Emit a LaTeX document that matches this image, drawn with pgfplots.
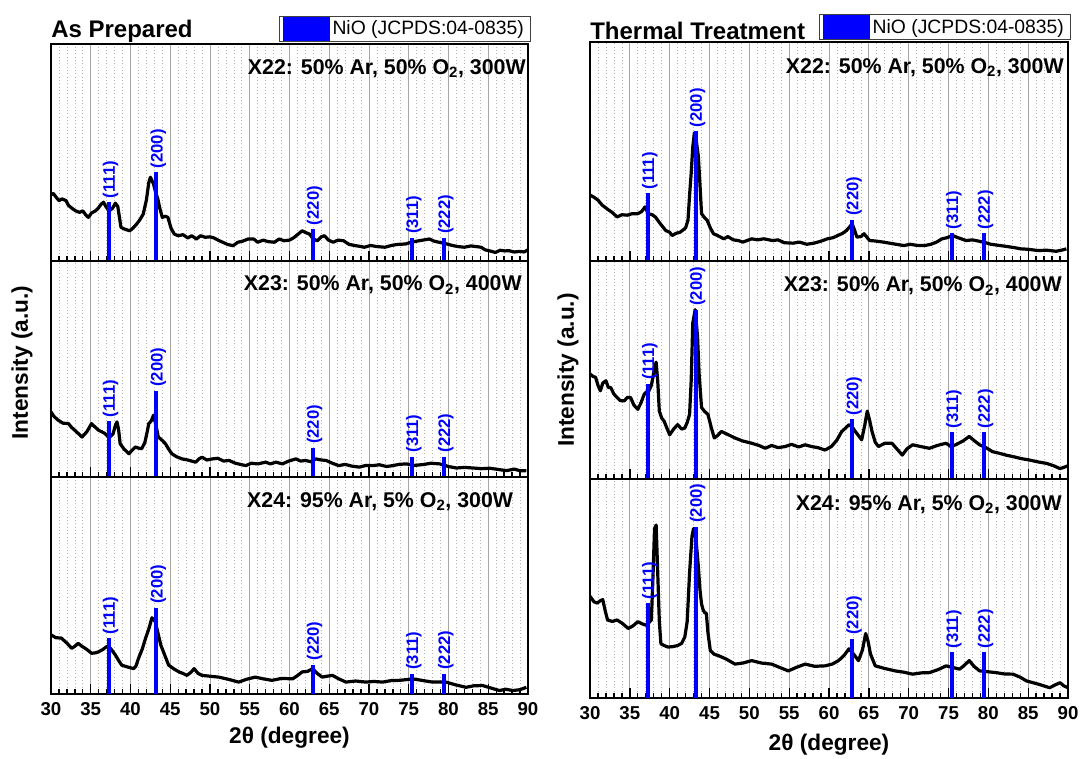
\documentclass[border=0pt]{standalone}
\usepackage{pgfplots}
\usepackage{pgfplotstable}
\pgfplotsset{compat=1.18}
\usepackage{fontspec}
\setmainfont{Liberation Sans}
\newcommand{\fs}[1]{\fontsize{#1}{#1}\selectfont}

\pgfplotstableread{
x y
30.0 30.5
30.3 31
30.6 29.5
31.0 27.7
31.4 28.5
31.9 27.7
32.2 25.5
32.7 24
33.1 23
33.6 22.3
34.0 23
34.4 21
34.7 20
35.1 22
35.6 23
36.0 24.5
36.3 26
36.6 27
36.9 25
37.3 23
37.7 24
38.1 26.5
38.4 25
38.8 15.4
39.3 14.5
39.9 13.8
40.3 15
40.8 17
41.2 19
41.6 21.5
42.0 28
42.3 36
42.5 38.5
42.7 37
42.9 35.4
43.2 31
43.4 29
43.7 24
44.0 20
44.4 20.5
44.7 20
45.1 15
45.5 12.3
46.0 11.5
46.6 12
47.2 10.5
47.7 11.5
48.3 10
48.8 11.5
49.4 10.8
50.0 11
50.5 10.5
51.0 9.5
51.6 8.5
52.2 7.5
52.9 6.9
53.5 8.5
54.1 9
54.8 10
55.5 10
56.0 8.5
56.7 9.5
57.3 8.8
58.1 8.5
58.7 10
59.3 9.2
60.0 9.5
60.5 10.5
61.0 12
61.6 13.8
62.0 13
62.5 12.3
63.0 10
63.5 9.2
64.0 11
64.4 11.5
64.9 9.5
65.5 8.5
66.1 9.5
66.8 9.2
67.5 7.5
68.2 7
69.0 6.5
69.4 6.2
70.2 7
71.0 6.5
72.0 6.2
72.8 7
73.6 7.5
74.6 7.7
75.3 8.5
76.0 9
76.8 9.5
77.6 10
78.2 9
78.8 8.5
79.8 7.7
80.5 7
81.2 6.5
82.0 6.2
82.8 6.8
83.5 6.5
84.1 6.2
84.6 5
85.2 4.5
85.9 3.8
86.5 4.8
87.1 4.5
87.6 4.6
88.3 4
89.0 4.3
89.5 4
90.0 5
}\dataTL

\pgfplotstableread{
x y
30.0 30
30.5 29
31.0 27.7
31.5 25.5
32.1 23.8
32.8 22
33.4 20
34.0 21
34.7 20.8
35.3 21.5
36.0 21.5
36.5 22.5
36.9 24.6
37.3 21.5
37.8 21
38.2 20
38.8 17
39.5 13.8
40.0 13
40.3 11.5
40.8 12.5
41.3 13
41.6 13.8
42.0 15
42.3 18.5
42.5 30
42.7 40
42.9 52
43.1 58.5
43.3 56
43.6 47.7
43.8 35
44.0 21.5
44.3 20
44.7 18.5
45.1 15
45.5 12.3
46.0 11.5
46.8 10
47.3 11
48.0 9.5
48.6 9.2
49.2 8.5
50.3 10
51.0 9.5
51.8 10
52.9 9.2
53.6 9.5
54.4 8.2
55.5 8
56.3 8.5
57.2 7.5
58.1 8
58.9 8.8
59.8 10
60.5 10.5
61.1 11.5
61.7 12.5
62.2 13.8
62.6 15.5
62.9 16.9
63.2 14
63.5 10.8
64.0 11
64.4 12.3
65.1 9.2
65.8 9
66.8 8.5
67.6 8
68.4 7.5
69.4 6.9
70.2 7.5
71.0 7
72.0 6.9
72.8 7.5
73.5 8.5
74.2 10
74.8 10.5
75.5 11.5
76.2 10.5
77.2 9.2
78.0 9.5
78.7 9
79.4 8.5
80.3 7.5
81.5 6.9
82.3 6.5
83.2 6
84.1 5.4
85.0 5.2
86.3 4.6
87.3 4.8
88.5 4.3
89.2 4.8
89.8 5.4
}\dataTR

\pgfplotstableread{
x y
30.0 30.2
30.4 28
30.9 26.4
31.5 25
32.2 24.8
32.6 23
33.0 21.7
33.5 20
33.9 18.6
34.5 21
35.1 24.8
35.6 23
36.0 21.7
36.4 21
36.8 20.2
37.1 19
37.4 18.6
37.8 20
38.1 24
38.3 25.6
38.5 22
38.7 15.5
39.2 13
39.8 10.9
40.2 12.5
40.6 14
41.0 13.5
41.4 13.2
41.8 16
42.1 21
42.3 24.8
42.6 26
42.9 28.7
43.2 24
43.5 18.6
44.0 17
44.4 15.5
44.8 13
45.2 10.9
45.8 9.5
46.5 8.5
47.2 8
48.2 7
48.6 8.5
49.0 9.3
49.6 8
50.3 8.5
51.0 8.8
51.7 7.5
52.4 7.8
53.2 6.5
53.8 6
54.5 5.4
55.2 6.5
56.0 6.2
57.0 7
57.6 6.2
58.3 7
59.1 6.2
59.9 7.5
60.8 8.5
61.4 7.5
62.0 7.8
62.7 7.2
63.3 8.5
64.0 8
64.6 7.8
65.4 6.5
66.2 5.4
67.0 6
67.8 5.2
68.8 4.7
69.6 5.5
70.5 5.4
71.3 5.8
72.2 5
73.0 5.4
73.8 6
74.7 6.2
75.7 5.5
76.8 5.9
77.8 6.5
78.9 6.2
80.0 5
81.0 4.3
82.0 4.6
83.1 4.3
84.2 4
85.2 4.2
86.3 3.6
87.3 3.1
88.3 3.8
89.0 3
89.8 3.1
}\dataML

\pgfplotstableread{
x y
30.0 48.2
30.4 47
30.7 46.7
31.0 43
31.3 40.5
31.6 44
32.0 45.1
32.3 42
32.6 42
33.0 39
33.4 37.4
33.8 36
34.3 35.9
34.7 37.5
35.1 37.4
35.5 34
36.0 32
36.4 35
36.8 38.9
37.1 40
37.4 40.5
37.7 43
37.9 46.7
38.1 51
38.3 53.6
38.5 45
38.7 31.2
39.0 28
39.3 26.6
39.7 23
40.0 20.4
40.5 23
41.0 25
41.5 23
41.9 23.5
42.2 26
42.5 29.7
42.7 45
42.9 71.4
43.2 77.6
43.5 65.2
43.7 48
44.0 32.8
44.4 31
44.8 29.7
45.2 24
45.6 18.9
46.0 20
46.5 21.9
47.3 20.5
48.2 18.9
49.2 17.5
50.3 16.5
51.2 15.5
52.0 14.2
52.8 15.5
53.6 14.5
54.5 15
55.3 16
56.2 14.8
57.0 15.8
57.8 15
58.6 14.5
59.5 13.4
60.3 15
61.0 18
61.6 21.9
62.1 23.5
62.5 25
62.9 24
63.3 21.9
63.7 20
64.1 18.1
64.5 25
64.8 31.2
65.1 27
65.4 21.9
65.8 17
66.2 15
67.0 16.5
67.9 16.5
68.5 14
69.2 11.1
69.8 14
70.5 15.8
71.5 15
72.6 14.2
73.6 15.5
74.7 16.5
75.3 15
75.9 15.8
76.8 17.5
77.6 19.6
78.3 17.5
78.9 15.8
79.7 14.5
80.5 12.7
81.5 11.8
82.3 11
83.1 10.4
84.1 9.5
85.2 8.8
86.2 8
87.3 7.3
88.2 6.2
89.0 4.9
89.5 5.5
90.0 6.2
}\dataMR

\pgfplotstableread{
x y
30.0 27.3
30.6 26
31.3 25.8
32.0 23.5
32.6 21.1
33.0 22
33.4 23.4
33.9 22
34.3 21.1
34.7 20
35.1 18.8
35.6 19
36.0 19.5
36.5 20.5
37.0 21.9
37.5 21
38.1 18
38.5 15.5
38.9 13.3
39.6 12.5
40.4 11.7
40.7 13
41.0 16.4
41.5 21
41.9 25.8
42.3 30
42.7 35.2
43.1 33.6
43.4 29
43.8 22.7
44.3 18
44.8 13.3
45.5 11.5
46.1 10.2
46.6 9.5
47.1 8.6
47.6 10
48.0 11.7
48.5 9.5
49.0 8.6
50.0 8.2
51.1 7.8
52.3 6.8
53.6 5.5
54.6 6.8
55.7 7.8
56.7 7
57.8 6.3
59.0 7.2
60.4 7
61.0 8.5
61.6 10.2
62.3 10.5
62.9 11.7
63.5 9.5
64.1 7.8
64.7 8.2
65.4 8.6
66.2 7
67.1 5.5
68.3 6
69.6 5.5
70.6 5.8
71.7 5.5
72.8 6.2
73.8 6.3
74.6 6.6
75.5 7
76.8 6.2
78.0 5.5
79.7 5.5
80.9 4.2
82.2 3.1
83.2 3.8
84.3 3.9
85.3 2.8
86.4 1.6
87.2 2.2
88.1 1.6
89.0 2
89.8 3.1
}\dataBL

\pgfplotstableread{
x y
30.0 46.5
30.5 44
30.9 43.4
31.3 44.5
31.6 45
31.9 40
32.2 35.7
32.8 35
33.4 35.7
34.1 34
34.8 31.8
35.4 33
36.0 34.9
36.5 34
37.0 33.3
37.4 34.5
37.7 35.7
37.9 55
38.1 77.5
38.3 79.1
38.5 57.4
38.7 35
38.9 24.8
39.3 24
39.8 23.3
40.4 23.5
41.0 24
41.5 25
41.9 27.9
42.2 35
42.5 57.4
42.8 74
43.0 77.5
43.3 72.9
43.6 60
43.8 49.6
44.0 43
44.2 40.3
44.4 39
44.6 38.8
44.8 30
45.1 21.7
45.6 20
46.1 19.4
47.0 18
48.2 15.5
49.2 16
50.3 17.1
51.5 16
52.8 15.5
53.8 14
54.9 12.4
55.9 14
57.0 15.5
58.2 14.5
59.5 14.7
60.4 15.5
61.2 17.1
61.9 19.5
62.5 22.5
63.1 20
63.7 17.1
64.2 22
64.6 29.5
64.9 26
65.2 20.2
65.8 14.7
67.0 13.5
68.3 12.4
69.4 11.8
70.5 10.9
71.6 11.5
72.6 11.6
73.7 13
74.7 14.7
75.5 14
76.4 13.2
77.0 15
77.6 17.1
78.2 14.5
78.9 12.4
80.0 12
81.0 11.6
82.0 11
83.1 10.9
84.0 9.5
84.8 7.8
85.6 7
86.4 6.2
87.0 5.5
87.7 4.7
88.4 6
89.0 7
89.5 5.5
90.0 4.7
}\dataBR

\pgfplotstableread{
x y lab
37.25 27 (111)
43.25 40.8 (200)
62.9 14.6 (220)
75.4 10.5 (311)
79.4 10.5 (222)
}\barTL
\pgfplotstableread{
x y lab
37.25 30.8 (111)
43.25 59.2 (200)
62.9 18.8 (220)
75.4 12.6 (311)
79.4 12.6 (222)
}\barTR
\pgfplotstableread{
x y lab
37.25 26 (111)
43.25 40 (200)
62.9 13.6 (220)
75.4 9.6 (311)
79.4 9.6 (222)
}\barML
\pgfplotstableread{
x y lab
37.25 43.6 (111)
43.25 77.6 (200)
62.9 27.4 (220)
75.4 21.6 (311)
79.4 21.6 (222)
}\barMR
\pgfplotstableread{
x y lab
37.25 25.8 (111)
43.25 39.8 (200)
62.9 13.6 (220)
75.4 9.4 (311)
79.4 9.4 (222)
}\barBL
\pgfplotstableread{
x y lab
37.25 43.4 (111)
43.25 78.3 (200)
62.9 27.1 (220)
75.4 20.9 (311)
79.4 20.9 (222)
}\barBR

\pgfplotsset{
  panel/.style={
    scale only axis, anchor=south west,
    clip mode=individual,
    xmin=30, xmax=90, ymin=0, ymax=100,
    xtick={30,35,...,90}, minor x tick num=4,
    ytick=\empty,
    xtick pos=lower,
    tick align=inside,
    major tick length=7.5pt, minor tick length=3.75pt,
    every tick/.style={black, line width=1pt},
    xmajorgrids, xminorgrids,
    major grid style={draw=black!35, line width=0.7pt, solid},
    minor grid style={draw=black!30, line width=0.5pt, dotted},
    axis line style={line width=1.3pt},
    tick label style={font=\fs{14}\bfseries},
    xticklabel style={yshift=-3pt},
    /pgf/number format/assume math mode=true,
  },
  leftp/.style={panel, width=357.75pt, height=162.5pt},
  rightp/.style={panel, width=358.5pt, height=164pt},
  curve/.style={black, line width=2.4pt, line join=round, no marks},
  bars/.style={ycomb, color={rgb,255:red,0;green,0;blue,255}, line width=3pt, no marks,
    nodes near coords, point meta=explicit symbolic,
    nodes near coords style={xshift=1.5pt, rotate=90, anchor=west, inner sep=1.5pt,
      font=\fs{12.5}\bfseries, text={rgb,255:red,0;green,0;blue,255}}},
  nioleg/.style={legend style={draw=black!75, line width=0.6pt, font=\fs{14.5},
      inner xsep=3pt, inner ysep=0.5pt, legend cell align=left}},
}
\newcommand{\leg}{\addlegendimage{legend image code/.code={\fill[blue] (0pt,-8.5pt) rectangle (34.5pt,8.5pt);}}\addlegendentry{NiO (JCPDS:04-0835)}}

\begin{document}
\begin{tikzpicture}
\useasboundingbox (0,0) rectangle (810pt,568.5pt);

% ---------- Left column ----------
\begin{axis}[leftp, at={(38.25pt,373pt)}, xticklabels={}, nioleg,
  legend style={at={(1.006,1.0115)}, anchor=south east}]
\leg
\addplot[curve] table[x=x,y=y] {\dataTL};
\addplot[bars] table[x=x,y=y,meta=lab] {\barTL};
\node[anchor=base west, inner sep=0, font=\fs{18}\bfseries, yshift=4.5pt] at (rel axis cs:0,1) {As Prepared};
\node[anchor=north east, inner sep=0, font=\fs{16}\bfseries, xshift=-1.5pt, yshift=-11.25pt] at (rel axis cs:1,1) {X22: 50\% Ar, 50\% O\textsubscript{2}, 300W};
\end{axis}

\begin{axis}[leftp, at={(38.25pt,210.5pt)}, xticklabels={},
  ylabel={Intensity (a.u.)},
  ylabel style={font=\fs{17}\bfseries, at={(axis description cs:-0.061,0.53)}, anchor=center}]
\addplot[curve] table[x=x,y=y] {\dataML};
\addplot[bars] table[x=x,y=y,meta=lab] {\barML};
\node[anchor=north east, inner sep=0, font=\fs{16}\bfseries, xshift=-4.5pt, yshift=-11.25pt] at (rel axis cs:1,1) {X23: 50\% Ar, 50\% O\textsubscript{2}, 400W};
\end{axis}

\begin{axis}[leftp, at={(38.25pt,48pt)},
  xlabel={2θ (degree)},
  xlabel style={font=\fs{17}\bfseries, at={(axis description cs:0.5,-0.203)}, anchor=center}]
\addplot[curve] table[x=x,y=y] {\dataBL};
\addplot[bars] table[x=x,y=y,meta=lab] {\barBL};
\node[anchor=north east, inner sep=0, font=\fs{16}\bfseries, xshift=-11pt, yshift=-11.25pt] at (rel axis cs:1,1) {X24: 95\% Ar, 5\% O\textsubscript{2}, 300W};
\end{axis}

% ---------- Right column ----------
\begin{axis}[rightp, at={(442.5pt,373pt)}, xticklabels={}, nioleg,
  legend style={at={(1.0063,1.009)}, anchor=south east}]
\leg
\addplot[curve] table[x=x,y=y] {\dataTR};
\addplot[bars] table[x=x,y=y,meta=lab] {\barTR};
\node[anchor=base west, inner sep=0, font=\fs{18}\bfseries, yshift=1.5pt] at (rel axis cs:0,1) {Thermal Treatment};
\node[anchor=north east, inner sep=0, font=\fs{16}\bfseries, xshift=-3pt, yshift=-12pt] at (rel axis cs:1,1) {X22: 50\% Ar, 50\% O\textsubscript{2}, 300W};
\end{axis}

\begin{axis}[rightp, at={(442.5pt,209pt)}, xticklabels={},
  ylabel={Intensity (a.u.)},
  ylabel style={font=\fs{17}\bfseries, at={(axis description cs:-0.046,0.5)}, anchor=center}]
\addplot[curve] table[x=x,y=y] {\dataMR};
\addplot[bars] table[x=x,y=y,meta=lab] {\barMR};
\node[anchor=north east, inner sep=0, font=\fs{16}\bfseries, xshift=-4.5pt, yshift=-12pt] at (rel axis cs:1,1) {X23: 50\% Ar, 50\% O\textsubscript{2}, 400W};
\end{axis}

\begin{axis}[rightp, at={(442.5pt,45pt)},
  xlabel={2θ (degree)},
  xlabel style={font=\fs{17}\bfseries, at={(axis description cs:0.5,-0.215)}, anchor=center}]
\addplot[curve] table[x=x,y=y] {\dataBR};
\addplot[bars] table[x=x,y=y,meta=lab] {\barBR};
\node[anchor=north east, inner sep=0, font=\fs{16}\bfseries, xshift=-4.5pt, yshift=-12pt] at (rel axis cs:1,1) {X24: 95\% Ar, 5\% O\textsubscript{2}, 300W};
\end{axis}
\end{tikzpicture}
\end{document}
